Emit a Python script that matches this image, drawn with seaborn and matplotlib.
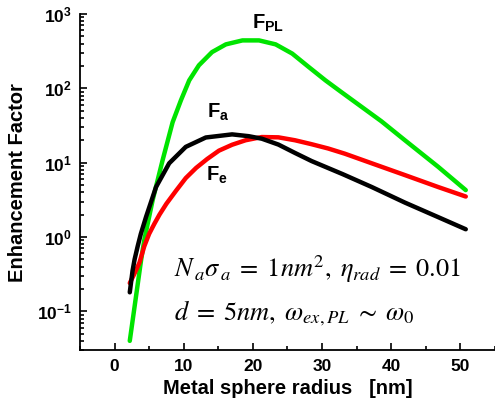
import numpy as np
import pandas as pd
import matplotlib
matplotlib.use("Agg")
import matplotlib.pyplot as plt
import seaborn as sns
from matplotlib.ticker import FixedLocator, LogLocator, NullFormatter

# ---- data ----
r_pl = [2.2, 3.1, 3.84, 4.3, 5.5, 6.95, 8.4, 9.6, 10.8, 12.2, 14.1, 16.1, 18.5, 20.9,
        23.3, 25.7, 28.1, 30.5, 32.8, 38.6, 42.0, 46.8, 50.8]
f_pl = [0.04, 0.158, 0.49, 0.91, 3.1, 10.8, 35, 69, 128, 204, 307, 390, 441, 441,
        390, 293, 193, 128, 89, 36, 20, 8.8, 4.27]

r_a = [2.2, 2.6, 2.9, 3.36, 3.8, 4.56, 6.0, 7.9, 10.3, 13.2, 17.0, 19.4, 21.3, 23.7,
       26.1, 28.5, 33.0, 37.2, 42.0, 46.8, 50.8]
f_a = [0.18, 0.35, 0.5, 0.76, 1.1, 1.87, 4.7, 9.8, 16.3, 21.8, 24, 22.7, 21, 17.5,
       13.5, 10.5, 7.0, 4.7, 2.9, 1.85, 1.27]

r_e = [2.2, 2.8, 3.6, 4.3, 5.0, 5.75, 6.5, 7.5, 8.9, 10.3, 11.8, 13.4, 15.1, 17.0,
       18.95, 21.3, 23.7, 26.1, 28.5, 30.9, 33.3, 37.2, 42.0, 46.8, 50.8]
f_e = [0.24, 0.31, 0.45, 0.75, 1.1, 1.5, 2.0, 2.8, 4.2, 6.2, 8.5, 11.2, 14.5, 17.4,
       20, 22.1, 21.9, 20, 17.7, 15.5, 13.2, 9.8, 6.8, 4.7, 3.5]

x_ticks = [0, 10, 20, 30, 40, 50]
y_ticks = [0.1, 1, 10, 100, 1000]
y_tick_labels = [r"$\mathbf{10^{-1}}$", r"$\mathbf{10^{0}}$", r"$\mathbf{10^{1}}$",
                 r"$\mathbf{10^{2}}$", r"$\mathbf{10^{3}}$"]

sns.set_theme(style="white")
plt.rcParams["font.family"] = ["Liberation Sans", "DejaVu Sans"]
plt.rcParams["mathtext.fontset"] = "custom"
plt.rcParams["mathtext.rm"] = "Liberation Sans"
plt.rcParams["mathtext.bf"] = "Liberation Sans:bold"
plt.rcParams["mathtext.it"] = "Liberation Sans:italic"
plt.rcParams["text.color"] = "black"
plt.rcParams["axes.labelcolor"] = "black"
plt.rcParams["xtick.color"] = "black"
plt.rcParams["ytick.color"] = "black"

fig = plt.figure(figsize=(4.95, 4.11), dpi=100)
ax = fig.add_axes([0.1616, 0.148, 0.838, 0.818])

df_pl = pd.DataFrame({"r": r_pl, "f": f_pl})
df_a = pd.DataFrame({"r": r_a, "f": f_a})
df_e = pd.DataFrame({"r": r_e, "f": f_e})

kw = dict(lw=3.2, ax=ax, sort=False, solid_capstyle="round", solid_joinstyle="round")
sns.lineplot(data=df_pl, x="r", y="f", color="#00e400", **kw)
sns.lineplot(data=df_e, x="r", y="f", color="#ff0000", **kw)
sns.lineplot(data=df_a, x="r", y="f", color="#000000", **kw)

ax.set_yscale("log")
ax.set_xlim(-5, 55)
ax.set_ylim(0.03, 1000)

ax.xaxis.set_major_locator(FixedLocator(x_ticks))
ax.xaxis.set_minor_locator(FixedLocator([-5, 5, 15, 25, 35, 45, 55]))
ax.set_xticklabels([str(t) for t in x_ticks], fontsize=12.5, fontweight="bold")
ax.yaxis.set_major_locator(FixedLocator(y_ticks))
ax.yaxis.set_minor_locator(LogLocator(base=10, subs=np.arange(2, 10)))
ax.yaxis.set_minor_formatter(NullFormatter())
ax.set_yticklabels(y_tick_labels, fontsize=12.5)

ax.tick_params(which="both", direction="in", color="black", width=1.2)
ax.tick_params(which="major", length=5, pad=6)
ax.tick_params(which="minor", length=3)
ax.tick_params(axis="x", which="both", bottom=True)
ax.tick_params(axis="y", which="both", left=True)

for s in ["top", "right"]:
    ax.spines[s].set_visible(False)
for s in ["left", "bottom"]:
    ax.spines[s].set_color("black")
    ax.spines[s].set_linewidth(1.3)

ax.set_xlabel("Metal sphere radius   [nm]", fontsize=14.5, fontweight="bold", labelpad=4)
ax.set_ylabel("Enhancement Factor", fontsize=14.5, fontweight="bold", labelpad=7)

ax.text(19.9, 630, r"$\mathbf{F}_{\mathbf{PL}}$", fontsize=14.5, ha="left", va="baseline")
ax.text(13.4, 40, r"$\mathbf{F}_{\mathbf{a}}$", fontsize=14.5, ha="left", va="baseline")
ax.text(13.2, 5.8, r"$\mathbf{F}_{\mathbf{e}}$", fontsize=14.5, ha="left", va="baseline")

ax.text(8.6, 0.29, r"$N_{\,a}\sigma_{\,a}\;=\;1nm^2,\;\eta_{rad}\;=\;0.01$", fontsize=19,
        math_fontfamily="stix", ha="left", va="baseline")
ax.text(8.6, 0.077, r"$d\;=\;5nm,\;\omega_{ex,PL}\;\sim\;\omega_0$", fontsize=19,
        math_fontfamily="stix", ha="left", va="baseline")

fig.savefig("out.png", dpi=100)
